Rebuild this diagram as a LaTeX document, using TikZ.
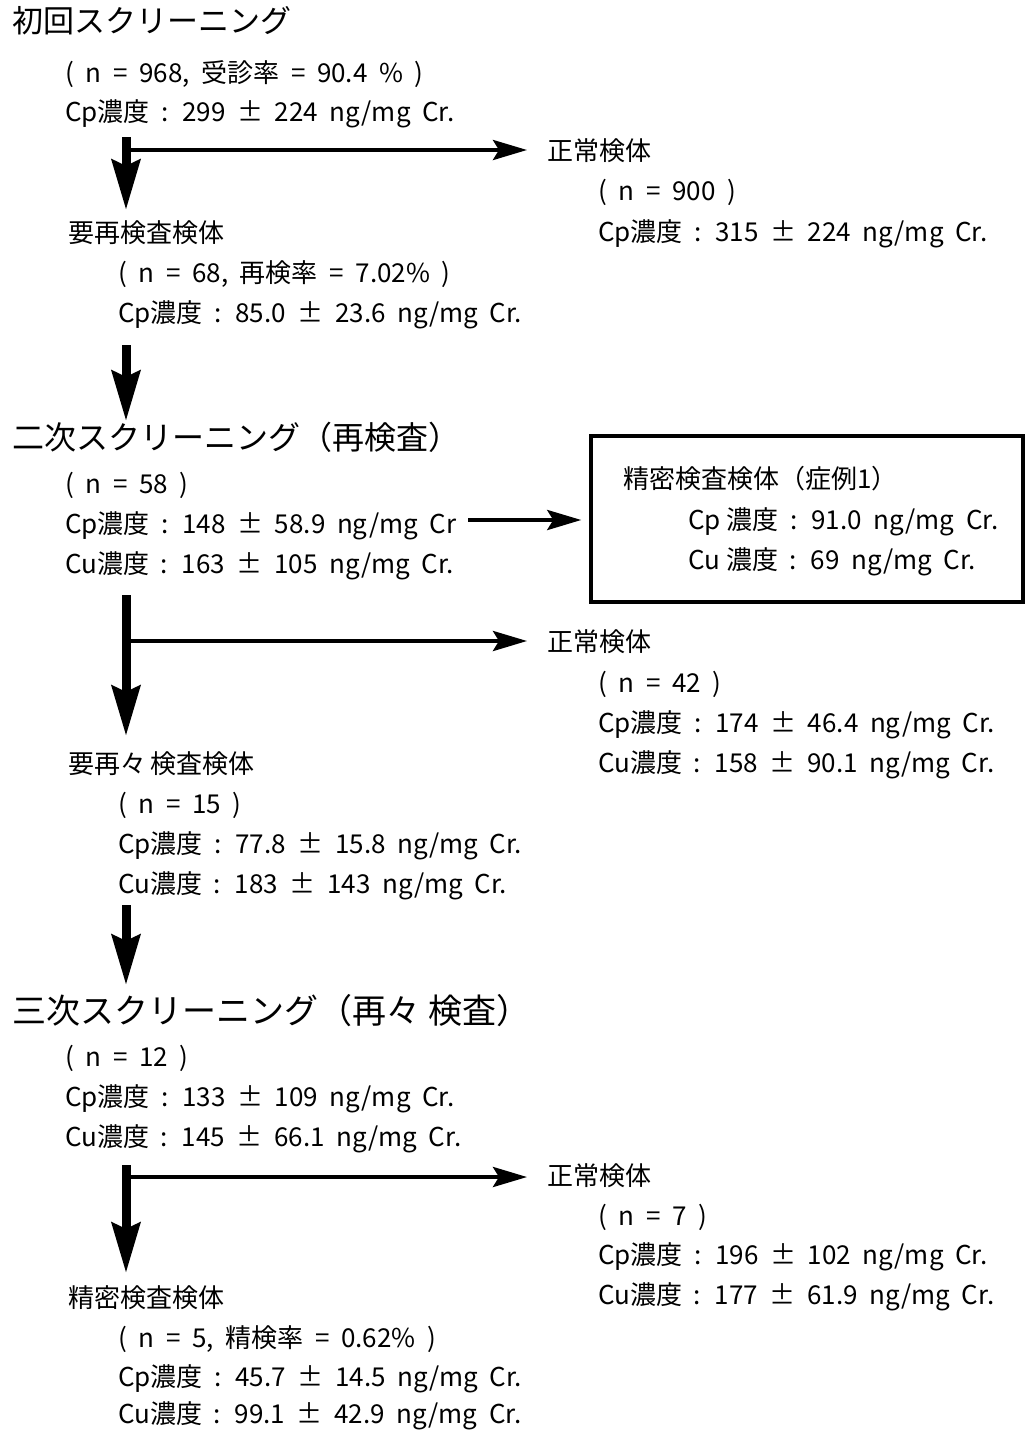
\documentclass[tikz,border=0pt]{standalone}
\usepackage{fontspec}
\setmainfont{Noto Sans CJK JP}[WordSpace=2]
\usetikzlibrary{arrows.meta}
\tikzset{
  body/.style={anchor=base west, inner sep=0pt, font=\fontsize{26}{26}\selectfont},
  ttl/.style={anchor=base west, inner sep=0pt, font=\fontsize{31}{31}\selectfont},
  varrow/.style={line width=9pt, -{Stealth[length=50pt,width=28pt,inset=6pt]}},
  harrow/.style={line width=4pt, -{Stealth[length=34pt,width=20pt,inset=6pt]}},
  casebox/.style={draw, line width=3.5pt, minimum width=432pt, minimum height=166pt, inner sep=0pt}
}
\begin{document}
\begin{tikzpicture}[x=1pt,y=-1pt]
\useasboundingbox (0,0) rectangle (1026,1430);
% block 1
\node[ttl]  (t1) at (12,32) {初回スクリーニング};
\node[body] (t1a) at (65,82) {( n = 968, 受診率 = 90.4 \% )};
\node[body] (t1b) at (65,121) {Cp濃度 : 299 ± 224 ng/mg Cr.};
\node[body] (n1) at (547,160) {正常検体};
\node[body] (n1a) at (598,200) {( n = 900 )};
\node[body] (n1b) at (598,241) {Cp濃度 : 315 ± 224 ng/mg Cr.};
\node[body] (r1) at (68,242) {要再検査検体};
\node[body] (r1a) at (118,282) {( n = 68, 再検率 = 7.02\% )};
\node[body] (r1b) at (118,322) {Cp濃度 : 85.0 ± 23.6 ng/mg Cr.};
\coordinate (v1) at (126,137);
\coordinate (v1e) at (126,210);
\coordinate (h1) at (131,150);
\draw[varrow] (v1) -- (v1e);
\draw[harrow] (h1) -- ([xshift=-20pt]n1.west |- h1);
\coordinate (v2) at (126,345);
\coordinate (v2e) at (126,421);
\draw[varrow] (v2) -- (v2e);
% block 2
\node[ttl, font=\fontsize{32}{32}\selectfont]  (t2) at (12,449) {二次スクリーニング（再検査）};
\node[body] (t2a) at (65,493) {( n = 58 )};
\node[body] (t2b) at (65,533) {Cp濃度 : 148 ± 58.9 ng/mg Cr};
\node[body] (t2c) at (65,573) {Cu濃度 : 163 ± 105 ng/mg Cr.};
\node[casebox] (box) at (807,519) {};
\node[body] (b1) at (623,488) {精密検査検体（症例1）};
\node[body] (b2) at (688,529) {Cp\hspace{6pt}濃度 : 91.0 ng/mg Cr.};
\node[body] (b3) at (688,569) {Cu\hspace{6pt}濃度 : 69 ng/mg Cr.};
\coordinate (h2) at (468,520);
\draw[harrow] (h2) -- ([xshift=-8pt]box.west |- h2);
\node[body] (n2) at (547,651) {正常検体};
\node[body] (n2a) at (598,692) {( n = 42 )};
\node[body] (n2b) at (598,732) {Cp濃度 : 174 ± 46.4 ng/mg Cr.};
\node[body] (n2c) at (598,772) {Cu濃度 : 158 ± 90.1 ng/mg Cr.};
\node[body] (r2) at (68,773) {要再々\hspace{4pt}検査検体};
\node[body] (r2a) at (118,813) {( n = 15 )};
\node[body] (r2b) at (118,853) {Cp濃度 : 77.8 ± 15.8 ng/mg Cr.};
\node[body] (r2c) at (118,893) {Cu濃度 : 183 ± 143 ng/mg Cr.};
\coordinate (v3) at (126,595);
\coordinate (v3e) at (126,736);
\coordinate (h3) at (131,641);
\draw[varrow] (v3) -- (v3e);
\draw[harrow] (h3) -- ([xshift=-20pt]n2.west |- h3);
\coordinate (v4) at (126,905);
\coordinate (v4e) at (126,985);
\draw[varrow] (v4) -- (v4e);
% block 3
\node[ttl, font=\fontsize{34}{34}\selectfont]  (t3) at (12,1023) {三次スクリーニング（再々\hspace{8pt}検査）};
\node[body] (t3a) at (65,1066) {( n = 12 )};
\node[body] (t3b) at (65,1106) {Cp濃度 : 133 ± 109 ng/mg Cr.};
\node[body] (t3c) at (65,1146) {Cu濃度 : 145 ± 66.1 ng/mg Cr.};
\node[body] (n3) at (547,1185) {正常検体};
\node[body] (n3a) at (598,1225) {( n = 7 )};
\node[body] (n3b) at (598,1264) {Cp濃度 : 196 ± 102 ng/mg Cr.};
\node[body] (n3c) at (598,1304) {Cu濃度 : 177 ± 61.9 ng/mg Cr.};
\node[body] (r3) at (68,1307) {精密検査検体};
\node[body] (r3a) at (118,1347) {( n = 5, 精検率 = 0.62\% )};
\node[body] (r3b) at (118,1386) {Cp濃度 : 45.7 ± 14.5 ng/mg Cr.};
\node[body] (r3c) at (118,1423) {Cu濃度 : 99.1 ± 42.9 ng/mg Cr.};
\coordinate (v5) at (126,1165);
\coordinate (v5e) at (126,1273);
\coordinate (h5) at (131,1177);
\draw[varrow] (v5) -- (v5e);
\draw[harrow] (h5) -- ([xshift=-20pt]n3.west |- h5);
\end{tikzpicture}
\end{document}
